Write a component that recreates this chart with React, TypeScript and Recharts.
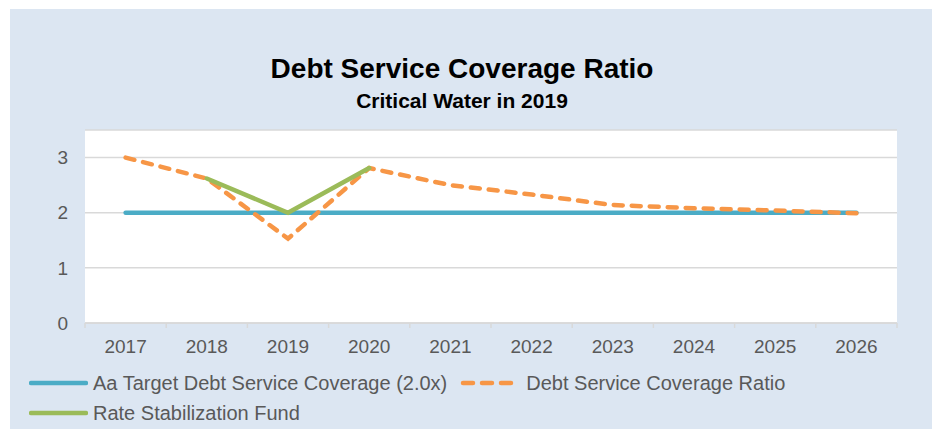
import React from 'react';
import { LineChart, Line, XAxis, YAxis, CartesianGrid } from 'recharts';

const years = ['2017', '2018', '2019', '2020', '2021', '2022', '2023', '2024', '2025', '2026'];
const targetValues = [2, 2, 2, 2, 2, 2, 2, 2, 2, 2];
const dscrValues = [3.0, 2.62, 1.53, 2.81, 2.5, 2.33, 2.14, 2.08, 2.04, 1.99];
const rsfValues: (number | null)[] = [null, 2.62, 2.0, 2.81, null, null, null, null, null, null];
const yTicks = [0, 1, 2, 3];

const titleText = 'Debt Service Coverage Ratio';
const subtitleText = 'Critical Water in 2019';
const seriesNames = {
  target: 'Aa Target Debt Service Coverage (2.0x)',
  dscr: 'Debt Service Coverage Ratio',
  rsf: 'Rate Stabilization Fund',
};

const COLORS = { target: '#4bacc6', dscr: '#f79646', rsf: '#9bbb59' };
const FONT = '"Liberation Sans", Arial, Helvetica, sans-serif';
const TEXT = '#595959';
const GRID = '#d9d9d9';

const data = years.map((y, i) => ({
  idx: i,
  year: y,
  target: targetValues[i],
  dscr: dscrValues[i],
  rsf: rsfValues[i],
}));

const xTicks = Array.from({ length: years.length * 2 + 1 }, (_, k) => -0.5 + k * 0.5);

const XTick = (props: any) => {
  const { x, y, payload } = props;
  const v = payload.value as number;
  if (Number.isInteger(v)) {
    return (
      <text x={x} y={y + 17} dy="0.71em" textAnchor="middle" fill={TEXT} fontSize={19} fontFamily={FONT}>
        {years[v]}
      </text>
    );
  }
  return <line x1={x} x2={x} y1={y} y2={y + 5} stroke={GRID} strokeWidth={1.5} />;
};

const LegendItem = ({ color, dashed, label, iconWidth, gap }: any) => (
  <div style={{ display: 'flex', alignItems: 'center', marginRight: 13 }}>
    <svg width={iconWidth} height={10} style={{ display: 'block' }}>
      {dashed ? (
        <line x1={3} x2={iconWidth - 3} y1={5} y2={5} stroke={color} strokeWidth={4.5} strokeDasharray="10 9" strokeLinecap="round" />
      ) : (
        <line x1={2} x2={iconWidth - 2} y1={5} y2={5} stroke={color} strokeWidth={4.5} strokeLinecap="round" />
      )}
    </svg>
    <span style={{ marginLeft: gap, fontSize: 20, color: TEXT, fontFamily: FONT, whiteSpace: 'nowrap', lineHeight: '30px' }}>{label}</span>
  </div>
);

export default function App() {
  return (
    <div style={{ position: 'absolute', left: 0, top: 0, width: 932, height: 429, background: '#fff' }}>
      <div style={{ position: 'absolute', left: 10, top: 9, width: 922, height: 420, background: '#dce6f2' }} />
      <div style={{ position: 'absolute', left: 10, top: 55, width: 904, textAlign: 'center', fontFamily: FONT, fontWeight: 'bold', fontSize: 28, lineHeight: '28px', color: '#000' }}>
        {titleText}
      </div>
      <div style={{ position: 'absolute', left: 10, top: 90, width: 904, textAlign: 'center', fontFamily: FONT, fontWeight: 'bold', fontSize: 21, lineHeight: '21px', color: '#000' }}>
        {subtitleText}
      </div>
      <div style={{ position: 'absolute', left: 10, top: 9 }}>
        <LineChart width={922} height={420} data={data} margin={{ top: 121, right: 35, left: 0, bottom: 66 }}>
          <CartesianGrid horizontal vertical={false} stroke={GRID} strokeWidth={1.5} fill="#ffffff" />
          <XAxis
            dataKey="idx"
            type="number"
            domain={[-0.5, years.length - 0.5]}
            ticks={xTicks}
            interval={0}
            tick={<XTick />}
            tickLine={false}
            tickSize={0}
            tickMargin={0}
            axisLine={{ stroke: GRID, strokeWidth: 1.5 }}
            height={40}
            allowDecimals
          />
          <YAxis
            type="number"
            domain={[0, 3.5]}
            ticks={yTicks}
            interval={0}
            width={75}
            tickLine={false}
            axisLine={false}
            tickSize={0}
            tickMargin={17}
            tick={{ fill: TEXT, fontSize: 19, fontFamily: FONT }}
          />
          <Line dataKey="target" name={seriesNames.target} stroke={COLORS.target} strokeWidth={4.5} strokeLinecap="round" dot={false} activeDot={false} isAnimationActive={false} />
          <Line dataKey="dscr" name={seriesNames.dscr} stroke={COLORS.dscr} strokeWidth={4.5} strokeDasharray="9 9" strokeLinecap="round" dot={false} activeDot={false} isAnimationActive={false} />
          <Line dataKey="rsf" name={seriesNames.rsf} stroke={COLORS.rsf} strokeWidth={4.5} strokeLinecap="round" dot={false} activeDot={false} isAnimationActive={false} connectNulls={false} />
        </LineChart>
      </div>
      <div style={{ position: 'absolute', left: 29, top: 368, width: 890, display: 'flex', flexWrap: 'wrap' }}>
        <LegendItem color={COLORS.target} label={seriesNames.target} iconWidth={59} gap={5} />
        <LegendItem color={COLORS.dscr} dashed label={seriesNames.dscr} iconWidth={56} gap={10} />
        <LegendItem color={COLORS.rsf} label={seriesNames.rsf} iconWidth={59} gap={5} />
      </div>
    </div>
  );
}
